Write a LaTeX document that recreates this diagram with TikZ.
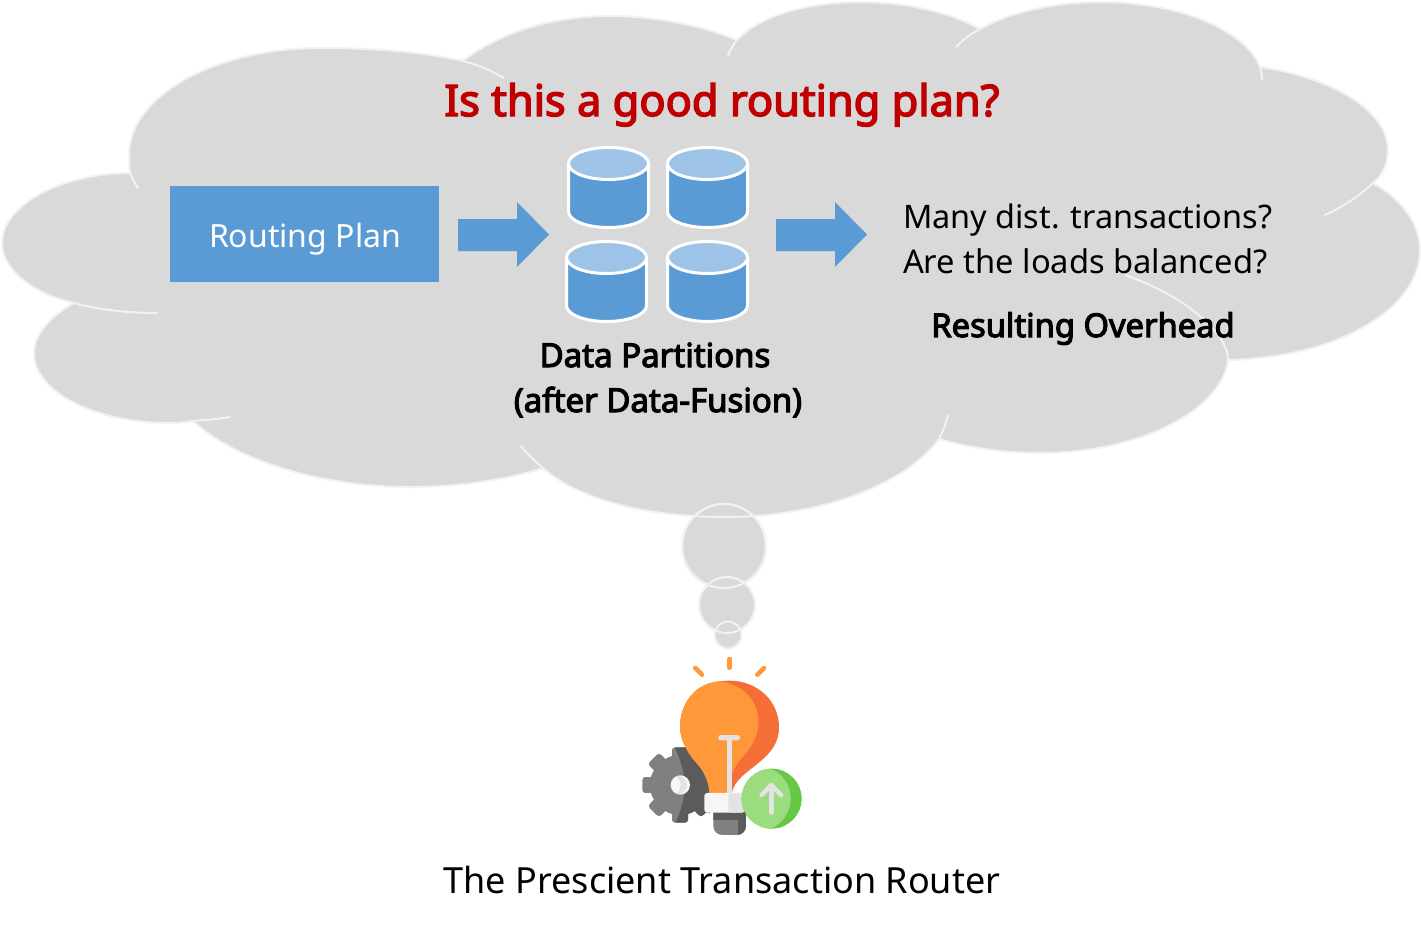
\documentclass[tikz,border=0pt]{standalone}
\usepackage{fontspec}
\setmainfont{Noto Sans}
\newfontfamily\heavyfont{Noto Sans}[FakeBold=3.4]
\definecolor{cloudfill}{HTML}{D9D9D9}
\definecolor{cloudline}{HTML}{F2F2F2}
\definecolor{pblue}{HTML}{5B9BD5}
\definecolor{lblue}{HTML}{9DC3E6}
\definecolor{tred}{HTML}{C00000}
\definecolor{bulbA}{HTML}{FF9838}
\definecolor{bulbB}{HTML}{F56E38}
\definecolor{gearA}{HTML}{808080}
\definecolor{gearB}{HTML}{5B5B5B}
\definecolor{greenA}{HTML}{9BDC7E}
\definecolor{greenB}{HTML}{66C845}
\definecolor{metal}{HTML}{E3E3E3}
\definecolor{offw}{HTML}{F7F5F6}
\tikzset{
  x=1pt,y=-1pt,
  hook/.style={draw=cloudline,line width=2pt,line cap=round},
  bubble/.style={draw=cloudline,line width=2pt,fill=cloudfill},
  txt/.style={inner sep=0pt,outer sep=0pt,text=black},
  blockarrow/.style={fill=pblue,draw=none},
}
\newcommand{\cylinder}[3]{% left x, top y, right x
  \begin{scope}
  \path[fill=pblue,draw=white,line width=3pt]
    (#1,#2+16) -- (#1,#2+64) .. controls (#1,#2+73) and (#1+18,#2+80) .. ({(#1+#3)/2},#2+80)
    .. controls (#3-18,#2+80) and (#3,#2+73) .. (#3,#2+64) -- (#3,#2+16) -- cycle;
  \path[fill=lblue,draw=white,line width=3pt]
    ({(#1+#3)/2},#2+16) ellipse [x radius={(#3-#1)/2},y radius=16];
  \end{scope}}
\begin{document}
\begin{tikzpicture}
\useasboundingbox (0,0) rectangle (1421,930);
\fill[white] (0,0) rectangle (1421,930);
% thought bubbles
\path[bubble] (724,546) circle [radius=42];
% cloud
\path[fill=cloudfill,draw=cloudline,line width=2pt,line join=round]
 (130,173) .. controls (129,167) and (129,161) .. (129,155)
 .. controls (129,96) and (215,48) .. (320,48)
 .. controls (375,48) and (425,52) .. (463,61)
 .. controls (500,32) and (553,16) .. (610,16)
 .. controls (655,16) and (700,25) .. (737,40)
 .. controls (760,15) and (810,2) .. (860,2)
 .. controls (905,2) and (950,12) .. (980,29)
 .. controls (1010,12) and (1055,2) .. (1100,2)
 .. controls (1180,2) and (1245,30) .. (1260,67)
 .. controls (1335,78) and (1388,112) .. (1388,150)
 .. controls (1388,163) and (1383,175) .. (1373,183)
 .. controls (1403,200) and (1420,225) .. (1420,250)
 .. controls (1420,310) and (1335,358) .. (1228,360)
 .. controls (1222,410) and (1140,453) .. (1040,453)
 .. controls (1005,453) and (970,448) .. (939,439)
 .. controls (905,485) and (820,517) .. (725,517)
 .. controls (640,517) and (575,497) .. (543,468)
 .. controls (505,480) and (460,487) .. (410,487)
 .. controls (320,487) and (235,460) .. (193,421)
 .. controls (186,422) and (178,423) .. (170,423)
 .. controls (95,423) and (34,392) .. (34,353)
 .. controls (34,335) and (50,316) .. (74,303)
 .. controls (30,293) and (2,268) .. (2,243)
 .. controls (2,205) and (62,173) .. (130,173) -- cycle;
% inner hooks
\draw[hook] (130,173) .. controls (132,178) and (135,183) .. (138,188);
\draw[hook] (74,303) .. controls (100,310) and (128,313) .. (157,313);
\draw[hook] (193,421) .. controls (205,420) and (218,419) .. (230,417);
\draw[hook] (521,446) .. controls (527,454) and (535,461) .. (543,468);
\draw[hook] (939,439) .. controls (943,431) and (946,423) .. (948,415);
\draw[hook] (1228,360) .. controls (1228,335) and (1190,298) .. (1125,275);
\draw[hook] (1373,183) .. controls (1360,195) and (1345,206) .. (1325,215);
\draw[hook] (1260,67) .. controls (1261,71) and (1262,75) .. (1262,80);
\draw[hook] (980,29) .. controls (970,34) and (963,40) .. (956,47);
\draw[hook] (737,40) .. controls (733,45) and (730,50) .. (728,56);
\draw[hook] (463,61) .. controls (478,65) and (492,71) .. (504,78);
% bubble top arc over cloud, and lower bubbles
\draw[hook] (724,546) circle [radius=42];
\path[bubble] (727,605) circle [radius=28];
\draw[hook] (724,546) circle [radius=42];
\path[bubble] (728,635) circle [radius=13.5];
\draw[hook] (727,605) circle [radius=28];
% routing plan
\node[fill=pblue,minimum width=269pt,minimum height=96pt,inner sep=0pt,anchor=center] (plan) at (304.5,234) {};
\node[txt,text=white,anchor=base,font=\fontsize{32}{36}\selectfont] (plantxt) at (305,247) {Routing Plan};
% arrows
\fill[blockarrow] (458,219) -- (517,219) -- (517,202) -- (549,234.5) -- (517,267) -- (517,251) -- (458,251) -- cycle;
\fill[blockarrow] (776,219) -- (835,219) -- (835,202) -- (867,234.5) -- (835,267) -- (835,251) -- (776,251) -- cycle;
% cylinders
\cylinder{568.5}{147.5}{648.5}
\cylinder{667.5}{147.5}{747.5}
\cylinder{566.5}{241.5}{646.5}
\cylinder{667.5}{241.5}{747.5}
% texts
\node[txt,text=tred,anchor=base,font=\heavyfont\fontsize{43.4}{48}\selectfont] (title) at (722,116) {Is this a good routing plan?};
\node[txt,anchor=base,font=\heavyfont\fontsize{33}{36}\selectfont] (dp1) at (655,367) {Data Partitions};
\node[txt,anchor=base,font=\heavyfont\fontsize{33}{36}\selectfont] (dp2) at (658,412) {(after Data-Fusion)};
\node[txt,anchor=base west,font=\fontsize{32.4}{36}\selectfont] (q1) at (903,228) {Many dist. transactions?};
\node[txt,anchor=base west,font=\fontsize{32.7}{36}\selectfont] (q2) at (903,273) {Are the loads balanced?};
\node[txt,anchor=base,font=\heavyfont\fontsize{32.7}{36}\selectfont] (ro) at (1083,337) {Resulting Overhead};
\node[txt,font=\fontsize{36}{42}\selectfont] (router) at (722,880) {The Prescient Transaction Router};
% icon
\begin{scope}[shift={(620,640)},x=0.3333pt,y=-0.3333pt]
  % rays
  \draw[bulbA,line width=4.6pt,line cap=round] (329,57) -- (329,83);
  \draw[bulbA,line width=4.6pt,line cap=round] (226,84) -- (246,104);
  \draw[bulbA,line width=4.6pt,line cap=round] (432,84) -- (412,104);
  % gear
  \fill[gearA] (180,435) circle [radius=90];
  \foreach \a in {0,45,...,315}{
    \fill[gearA,rotate around={\a:(180,435)},rounded corners=3pt] (156,322) rectangle (204,380);
  }
  \begin{scope}
    \clip (158,310) .. controls (195,380) and (215,460) .. (160,560) -- (300,560) -- (300,310) -- cycle;
    \fill[gearB] (180,435) circle [radius=90];
    \foreach \a in {0,45,...,315}{
      \fill[gearB,rotate around={\a:(180,435)},rounded corners=3pt] (156,322) rectangle (204,380);
    }
    \fill[gearB] (190,322) -- (250,380) -- (275,450) -- (270,520) -- (220,510) -- cycle;
  \end{scope}
  \fill[offw] (181,435) circle [radius=29];
  \begin{scope}
    \clip (181,435) circle [radius=29];
    \fill[metal,even odd rule] (172,435) circle [radius=28] (150,435) circle [radius=32];
  \end{scope}
  % bulb
  \fill[bulbB] (268,462) .. controls (268,430) and (255,400) .. (235,375)
    .. controls (205,345) and (180,300) .. (180,260)
    .. controls (180,180) and (240,122) .. (328,122)
    .. controls (410,122) and (477,180) .. (477,262)
    .. controls (477,310) and (450,340) .. (420,365)
    .. controls (385,395) and (340,420) .. (335,462) -- cycle;
  \fill[bulbA] (268,462) .. controls (268,430) and (255,400) .. (235,375)
    .. controls (205,345) and (180,300) .. (180,260)
    .. controls (180,190) and (225,130) .. (295,124)
    .. controls (365,130) and (415,180) .. (415,245)
    .. controls (415,300) and (385,330) .. (360,360)
    .. controls (345,380) and (330,400) .. (325,462) -- cycle;
  % filament
  \fill[metal] (320,295) rectangle (336,462);
  \fill[metal,rounded corners=2.5pt] (295,285) rectangle (360,301);
  % base
  \begin{scope}
    \clip[rounded corners=9pt] (280,490) rectangle (378,585);
    \fill[gearA] (280,510) rectangle (378,585);
    \fill[gearB] (280,510) rectangle (378,540);
    \fill[gearB] (355,510) rectangle (378,585);
  \end{scope}
  % collar
  \fill[offw,rounded corners=3pt] (253,459) rectangle (375,518);
  \fill[metal,rounded corners=3pt] (325,459) rectangle (375,518);
  % green
  \fill[greenB] (455,476) circle [radius=90];
  \begin{scope}
    \clip (455,476) circle [radius=90];
    \fill[greenA] (415,476) circle [radius=97];
  \end{scope}
  \draw[metal,line width=4.6pt,line cap=round] (454,445) -- (454,518);
  \draw[metal,line width=4.6pt,line cap=round,line join=round] (425,465) -- (454,435) -- (483,465);
\end{scope}
\end{tikzpicture}
\end{document}
